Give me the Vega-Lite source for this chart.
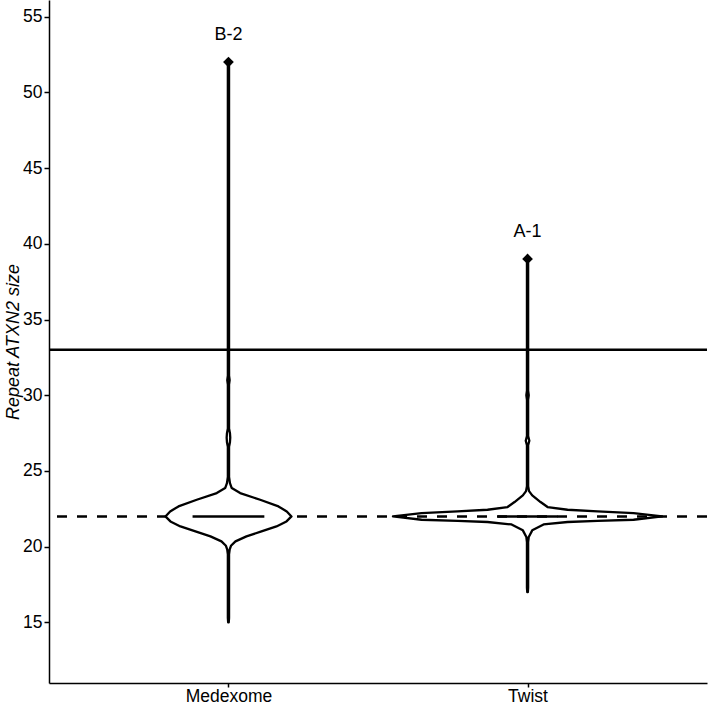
{
  "$schema": "https://vega.github.io/schema/vega-lite/v6.json",
  "width": 658,
  "height": 683,
  "autosize": {"type": "none"},
  "padding": {"left": 49, "top": 0, "right": 2, "bottom": 23},
  "background": "white",
  "config": {
    "view": {"stroke": null},
    "font": "Liberation Sans",
    "axis": {
      "grid": false,
      "labelFontSize": 17.5,
      "labelColor": "black",
      "labelFont": "Liberation Sans",
      "titleFont": "Liberation Sans",
      "titleFontSize": 18,
      "titleColor": "black",
      "titleFontWeight": "normal",
      "domainColor": "black",
      "domainWidth": 1.5,
      "tickColor": "black",
      "tickWidth": 1.5,
      "tickSize": 5,
      "labelPadding": 2
    },
    "axisX": {"tickSize": 4, "labelPadding": 0}
  },
  "datasets": {
    "violin": [
      {"group": "Medexome", "y": 15.0, "lo": 0.999, "hi": 1.001},
      {"group": "Medexome", "y": 15.3, "lo": 0.998, "hi": 1.002},
      {"group": "Medexome", "y": 17.0, "lo": 0.998, "hi": 1.002},
      {"group": "Medexome", "y": 19.5, "lo": 0.998, "hi": 1.002},
      {"group": "Medexome", "y": 19.8, "lo": 0.996, "hi": 1.004},
      {"group": "Medexome", "y": 20.06, "lo": 0.9916, "hi": 1.0084},
      {"group": "Medexome", "y": 20.35, "lo": 0.9766, "hi": 1.0234},
      {"group": "Medexome", "y": 20.68, "lo": 0.9398, "hi": 1.0602},
      {"group": "Medexome", "y": 21.01, "lo": 0.8896, "hi": 1.1104},
      {"group": "Medexome", "y": 21.34, "lo": 0.8395, "hi": 1.1605},
      {"group": "Medexome", "y": 21.67, "lo": 0.806, "hi": 1.194},
      {"group": "Medexome", "y": 22.0, "lo": 0.7893, "hi": 1.2107},
      {"group": "Medexome", "y": 22.33, "lo": 0.805, "hi": 1.195},
      {"group": "Medexome", "y": 22.66, "lo": 0.8328, "hi": 1.1672},
      {"group": "Medexome", "y": 23.1, "lo": 0.894, "hi": 1.106},
      {"group": "Medexome", "y": 23.54, "lo": 0.9609, "hi": 1.0391},
      {"group": "Medexome", "y": 23.87, "lo": 0.989, "hi": 1.011},
      {"group": "Medexome", "y": 24.2, "lo": 0.995, "hi": 1.005},
      {"group": "Medexome", "y": 24.6, "lo": 0.998, "hi": 1.002},
      {"group": "Medexome", "y": 26.6, "lo": 0.998, "hi": 1.002},
      {"group": "Medexome", "y": 26.9, "lo": 0.995, "hi": 1.005},
      {"group": "Medexome", "y": 27.2, "lo": 0.994, "hi": 1.006},
      {"group": "Medexome", "y": 27.5, "lo": 0.995, "hi": 1.005},
      {"group": "Medexome", "y": 27.8, "lo": 0.998, "hi": 1.002},
      {"group": "Medexome", "y": 30.7, "lo": 0.998, "hi": 1.002},
      {"group": "Medexome", "y": 31.0, "lo": 0.996, "hi": 1.004},
      {"group": "Medexome", "y": 31.3, "lo": 0.998, "hi": 1.002},
      {"group": "Medexome", "y": 51.7, "lo": 0.998, "hi": 1.002},
      {"group": "Medexome", "y": 52.0, "lo": 0.999, "hi": 1.001},
      {"group": "Twist", "y": 17.0, "lo": 1.999, "hi": 2.001},
      {"group": "Twist", "y": 17.3, "lo": 1.998, "hi": 2.002},
      {"group": "Twist", "y": 20.3, "lo": 1.998, "hi": 2.002},
      {"group": "Twist", "y": 20.64, "lo": 1.996, "hi": 2.004},
      {"group": "Twist", "y": 21.08, "lo": 1.9843, "hi": 2.0157},
      {"group": "Twist", "y": 21.47, "lo": 1.9465, "hi": 2.0535},
      {"group": "Twist", "y": 21.63, "lo": 1.8662, "hi": 2.1338},
      {"group": "Twist", "y": 21.71, "lo": 1.7659, "hi": 2.2341},
      {"group": "Twist", "y": 21.78, "lo": 1.6455, "hi": 2.3545},
      {"group": "Twist", "y": 22.0, "lo": 1.55, "hi": 2.45},
      {"group": "Twist", "y": 22.22, "lo": 1.6455, "hi": 2.3545},
      {"group": "Twist", "y": 22.33, "lo": 1.7659, "hi": 2.2341},
      {"group": "Twist", "y": 22.44, "lo": 1.8662, "hi": 2.1338},
      {"group": "Twist", "y": 22.62, "lo": 1.9331, "hi": 2.0669},
      {"group": "Twist", "y": 22.95, "lo": 1.9565, "hi": 2.0435},
      {"group": "Twist", "y": 23.39, "lo": 1.9843, "hi": 2.0157},
      {"group": "Twist", "y": 23.67, "lo": 1.995, "hi": 2.005},
      {"group": "Twist", "y": 24.0, "lo": 1.998, "hi": 2.002},
      {"group": "Twist", "y": 26.7, "lo": 1.998, "hi": 2.002},
      {"group": "Twist", "y": 27.0, "lo": 1.994, "hi": 2.006},
      {"group": "Twist", "y": 27.3, "lo": 1.998, "hi": 2.002},
      {"group": "Twist", "y": 29.7, "lo": 1.998, "hi": 2.002},
      {"group": "Twist", "y": 30.0, "lo": 1.996, "hi": 2.004},
      {"group": "Twist", "y": 30.3, "lo": 1.998, "hi": 2.002},
      {"group": "Twist", "y": 38.7, "lo": 1.998, "hi": 2.002},
      {"group": "Twist", "y": 39.0, "lo": 1.999, "hi": 2.001}
    ],
    "medians": [
      {"group": "Medexome", "median": 22, "lo": 0.88, "hi": 1.12},
      {"group": "Twist", "median": 22, "lo": 1.9, "hi": 2.1}
    ],
    "outliers": [
      {"group": "Medexome", "pos": 1, "value": 52, "label": "B-2"},
      {"group": "Twist", "pos": 2, "value": 39, "label": "A-1"}
    ]
  },
  "layer": [
    {
      "data": {"values": [{}]},
      "mark": {"type": "rule", "color": "black", "strokeWidth": 2.5, "strokeDash": [10, 10]},
      "encoding": {
        "y": {"datum": 22, "type": "quantitative", "scale": {"domain": [11, 56.1], "nice": false, "zero": false},
              "axis": {"values": [15, 20, 25, 30, 35, 40, 45, 50, 55], "title": "Repeat ATXN2 size", "titleFontStyle": "italic", "titlePadding": 0}}
      }
    },
    {
      "data": {"values": [{}]},
      "mark": {"type": "rule", "color": "black", "strokeWidth": 2.5},
      "encoding": {
        "y": {"datum": 33, "type": "quantitative", "scale": {"domain": [11, 56.1], "nice": false, "zero": false},
              "axis": {"values": [15, 20, 25, 30, 35, 40, 45, 50, 55], "title": "Repeat ATXN2 size", "titleFontStyle": "italic", "titlePadding": 0}}
      }
    },
    {
      "data": {"name": "violin"},
      "transform": [{"filter": "datum.group === 'Medexome'"}],
      "mark": {"type": "area", "orient": "horizontal", "fill": "white", "stroke": "black", "strokeWidth": 2.3, "strokeJoin": "round"},
      "encoding": {
        "y": {"field": "y", "type": "quantitative", "scale": {"domain": [11, 56.1], "nice": false, "zero": false},
              "axis": {"values": [15, 20, 25, 30, 35, 40, 45, 50, 55], "title": "Repeat ATXN2 size", "titleFontStyle": "italic", "titlePadding": 0}},
        "x": {"field": "lo", "type": "quantitative", "scale": {"domain": [0.4, 2.6], "nice": false, "zero": false},
              "axis": {"values": [1, 2], "labelExpr": "datum.value == 1 ? 'Medexome' : 'Twist'", "title": null}},
        "x2": {"field": "hi"}
      }
    },
    {
      "data": {"name": "violin"},
      "transform": [{"filter": "datum.group === 'Twist'"}],
      "mark": {"type": "area", "orient": "horizontal", "fillOpacity": 0, "stroke": "black", "strokeWidth": 2.3, "strokeJoin": "round"},
      "encoding": {
        "y": {"field": "y", "type": "quantitative", "scale": {"domain": [11, 56.1], "nice": false, "zero": false},
              "axis": {"values": [15, 20, 25, 30, 35, 40, 45, 50, 55], "title": "Repeat ATXN2 size", "titleFontStyle": "italic", "titlePadding": 0}},
        "x": {"field": "lo", "type": "quantitative", "scale": {"domain": [0.4, 2.6], "nice": false, "zero": false},
              "axis": {"values": [1, 2], "labelExpr": "datum.value == 1 ? 'Medexome' : 'Twist'", "title": null}},
        "x2": {"field": "hi"}
      }
    },
    {
      "data": {"name": "medians"},
      "mark": {"type": "rule", "color": "black", "strokeWidth": 2.5},
      "encoding": {
        "y": {"field": "median", "type": "quantitative", "scale": {"domain": [11, 56.1], "nice": false, "zero": false},
              "axis": {"values": [15, 20, 25, 30, 35, 40, 45, 50, 55], "title": "Repeat ATXN2 size", "titleFontStyle": "italic", "titlePadding": 0}},
        "x": {"field": "lo", "type": "quantitative", "scale": {"domain": [0.4, 2.6], "nice": false, "zero": false},
              "axis": {"values": [1, 2], "labelExpr": "datum.value == 1 ? 'Medexome' : 'Twist'", "title": null}},
        "x2": {"field": "hi"}
      }
    },
    {
      "data": {"name": "outliers"},
      "mark": {"type": "point", "shape": "diamond", "filled": true, "color": "black", "size": 115, "opacity": 1},
      "encoding": {
        "y": {"field": "value", "type": "quantitative", "scale": {"domain": [11, 56.1], "nice": false, "zero": false},
              "axis": {"values": [15, 20, 25, 30, 35, 40, 45, 50, 55], "title": "Repeat ATXN2 size", "titleFontStyle": "italic", "titlePadding": 0}},
        "x": {"field": "pos", "type": "quantitative", "scale": {"domain": [0.4, 2.6], "nice": false, "zero": false},
              "axis": {"values": [1, 2], "labelExpr": "datum.value == 1 ? 'Medexome' : 'Twist'", "title": null}}
      }
    },
    {
      "data": {"name": "outliers"},
      "mark": {"type": "text", "color": "black", "fontSize": 18, "font": "Liberation Sans", "dy": -27, "baseline": "middle", "align": "center"},
      "encoding": {
        "y": {"field": "value", "type": "quantitative", "scale": {"domain": [11, 56.1], "nice": false, "zero": false},
              "axis": {"values": [15, 20, 25, 30, 35, 40, 45, 50, 55], "title": "Repeat ATXN2 size", "titleFontStyle": "italic", "titlePadding": 0}},
        "x": {"field": "pos", "type": "quantitative", "scale": {"domain": [0.4, 2.6], "nice": false, "zero": false},
              "axis": {"values": [1, 2], "labelExpr": "datum.value == 1 ? 'Medexome' : 'Twist'", "title": null}},
        "text": {"field": "label"}
      }
    }
  ]
}
